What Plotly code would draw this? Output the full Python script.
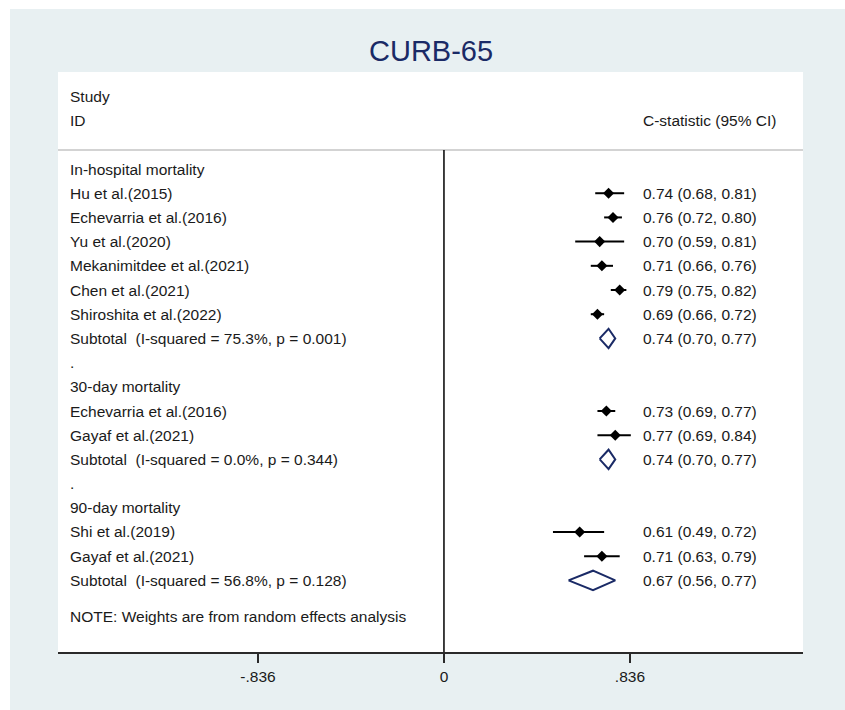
import plotly.graph_objects as go

# ---- forest plot data -------------------------------------------------------
row_labels = [
    "In-hospital mortality",
    "Hu et al.(2015)",
    "Echevarria et al.(2016)",
    "Yu et al.(2020)",
    "Mekanimitdee et al.(2021)",
    "Chen et al.(2021)",
    "Shiroshita et al.(2022)",
    "Subtotal  (I-squared = 75.3%, p = 0.001)",
    ".",
    "30-day mortality",
    "Echevarria et al.(2016)",
    "Gayaf et al.(2021)",
    "Subtotal  (I-squared = 0.0%, p = 0.344)",
    ".",
    "90-day mortality",
    "Shi et al.(2019)",
    "Gayaf et al.(2021)",
    "Subtotal  (I-squared = 56.8%, p = 0.128)",
]
row_kind = [
    "header", "study", "study", "study", "study", "study", "study", "subtotal", "blank",
    "header", "study", "study", "subtotal", "blank",
    "header", "study", "study", "subtotal",
]
estimate = [None, 0.74, 0.76, 0.70, 0.71, 0.79, 0.69, 0.74, None,
            None, 0.73, 0.77, 0.74, None,
            None, 0.61, 0.71, 0.67]
ci_low = [None, 0.68, 0.72, 0.59, 0.66, 0.75, 0.66, 0.70, None,
          None, 0.69, 0.69, 0.70, None,
          None, 0.49, 0.63, 0.56]
ci_high = [None, 0.81, 0.80, 0.81, 0.76, 0.82, 0.72, 0.77, None,
           None, 0.77, 0.84, 0.77, None,
           None, 0.72, 0.79, 0.77]

tick_values = [-0.836, 0, 0.836]
tick_text = ["-.836", "0", ".836"]

note_text = "NOTE: Weights are from random effects analysis"
title_text = "CURB-65"

# ---- styling ----------------------------------------------------------------
FONT = "Arial, Liberation Sans, sans-serif"
BG = "#e8f0f2"
NAVY = "#1a2a66"
TEXT_COL = "#1a1a1a"
X_RANGE = [-1.735, 1.614]
Y_RANGE = [19.96, -4.01]          # rows run top to bottom
HEADER_Y = -0.785                 # separator under the column headings
DIAMOND_HALF = 0.40               # half height of pooled diamonds (rows)
LABEL_X = 0.0134                  # paper x of the study column
VALUE_X = 0.885                   # data x of the estimate column
TEXT_SIZE = 15.5

fig = go.Figure()

# confidence interval lines and point estimates for individual studies
ci_x, ci_y, pt_x, pt_y = [], [], [], []
for i, kind in enumerate(row_kind):
    if kind == "study":
        ci_x += [ci_low[i], ci_high[i], None]
        ci_y += [i, i, None]
        pt_x.append(estimate[i])
        pt_y.append(i)

fig.add_trace(go.Scatter(x=ci_x, y=ci_y, mode="lines",
                         line=dict(color="black", width=2),
                         hoverinfo="skip", showlegend=False))
fig.add_trace(go.Scatter(x=pt_x, y=pt_y, mode="markers",
                         marker=dict(symbol="diamond", size=8.5, color="black"),
                         showlegend=False))

# pooled estimates as hollow diamonds
for i, kind in enumerate(row_kind):
    if kind == "subtotal":
        fig.add_trace(go.Scatter(
            x=[ci_low[i], estimate[i], ci_high[i], estimate[i], ci_low[i]],
            y=[i, i - DIAMOND_HALF, i, i + DIAMOND_HALF, i],
            mode="lines", line=dict(color=NAVY, width=2),
            hoverinfo="skip", showlegend=False))

annotations = []
# column headings
annotations.append(dict(x=LABEL_X, xref="paper", y=-3, yref="y", text="Study",
                        xanchor="left", yanchor="middle", showarrow=False))
annotations.append(dict(x=LABEL_X, xref="paper", y=-2, yref="y", text="ID",
                        xanchor="left", yanchor="middle", showarrow=False))
annotations.append(dict(x=VALUE_X, xref="x", y=-2, yref="y", text="C-statistic (95% CI)",
                        xanchor="left", yanchor="middle", showarrow=False))

for i, lab in enumerate(row_labels):
    annotations.append(dict(x=LABEL_X, xref="paper", y=i, yref="y", text=lab,
                            xanchor="left", yanchor="middle", showarrow=False))
    if estimate[i] is not None:
        val = f"{estimate[i]:.2f} ({ci_low[i]:.2f}, {ci_high[i]:.2f})"
        annotations.append(dict(x=VALUE_X, xref="x", y=i, yref="y", text=val,
                                xanchor="left", yanchor="middle", showarrow=False))

annotations.append(dict(x=LABEL_X, xref="paper", y=len(row_labels) + 0.5, yref="y",
                        text=note_text, xanchor="left", yanchor="middle",
                        showarrow=False))

annotations.append(dict(x=0.5, xref="paper", y=1.0 + (72 - 51.5) / 580, yref="paper",
                        text=title_text, xanchor="center", yanchor="middle",
                        showarrow=False, font=dict(size=29, color=NAVY)))

shapes = [
    # heading separator
    dict(type="line", xref="paper", yref="y", x0=0, x1=1, y0=HEADER_Y, y1=HEADER_Y,
         line=dict(color="#c4c4c4", width=1.5)),
    # null line
    dict(type="line", xref="x", yref="y", x0=0, x1=0, y0=HEADER_Y, y1=Y_RANGE[0],
         line=dict(color="black", width=1.5)),
    # thin white frame at the top and left edges of the page
    dict(type="rect", xref="paper", yref="paper", x0=-58 / 745, x1=-48 / 745,
         y0=-58 / 580, y1=652 / 580, fillcolor="white", line=dict(width=0)),
    dict(type="rect", xref="paper", yref="paper", x0=-58 / 745, x1=787 / 745,
         y0=643 / 580, y1=652 / 580, fillcolor="white", line=dict(width=0)),
]

fig.update_layout(
    width=845, height=710,
    margin=dict(l=58, r=42, t=72, b=58),
    paper_bgcolor=BG, plot_bgcolor="white",
    font=dict(family=FONT, size=TEXT_SIZE, color=TEXT_COL),
    annotations=annotations, shapes=shapes,
    xaxis=dict(range=X_RANGE, showgrid=False, zeroline=False,
               showline=True, linecolor="#2a2a2a", linewidth=2,
               ticks="outside", ticklen=9, tickwidth=1.5, tickcolor="#2a2a2a",
               tickvals=tick_values, ticktext=tick_text,
               tickfont=dict(size=TEXT_SIZE, color=TEXT_COL), fixedrange=True),
    yaxis=dict(range=Y_RANGE, showgrid=False, zeroline=False, showline=False,
               showticklabels=False, ticks="", fixedrange=True),
    hovermode=False,
)

# page styling: no margins or scrollbars, and the same tint behind the figure
page_css = ("document.documentElement.style.overflow='hidden';"
            "document.documentElement.style.background='" + BG + "';"
            "document.body.style.margin='0';"
            "document.body.style.overflow='hidden';"
            "document.body.style.background='" + BG + "';")
fig.write_html("out.html", post_script=page_css)
